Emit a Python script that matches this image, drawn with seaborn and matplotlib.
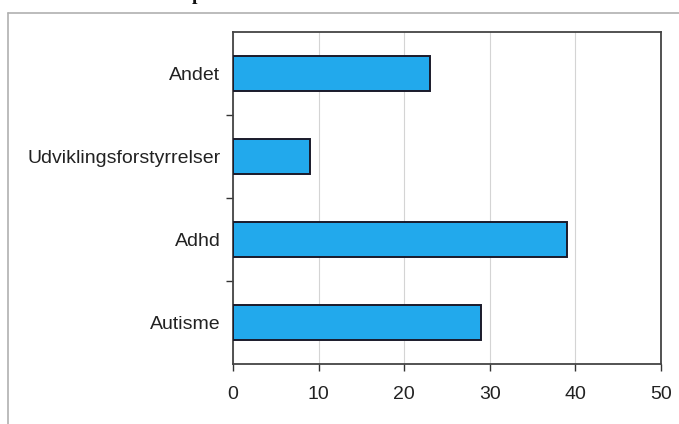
import matplotlib
matplotlib.use("Agg")
import matplotlib.pyplot as plt
from matplotlib.lines import Line2D
from matplotlib.ticker import FixedLocator, NullFormatter
import seaborn as sns
import pandas as pd

categories = ["Andet", "Udviklingsforstyrrelser", "Adhd", "Autisme"]
values = [23, 9, 39, 29]
x_ticks = [0, 10, 20, 30, 40, 50]

df = pd.DataFrame({"kategori": categories, "antal": values})

sns.set_style("white")
plt.rcParams["font.family"] = ["Liberation Sans", "DejaVu Sans"]

fig = plt.figure(figsize=(6.79, 4.24), dpi=100)
ax = fig.add_axes([0.343, 0.1415, 0.6305, 0.783])

sns.barplot(data=df, y="kategori", x="antal", orient="h", order=categories,
            color="#22A9EC", saturation=1, width=0.43,
            edgecolor="#1a1a2a", linewidth=1.4, ax=ax, zorder=3)

ax.set_xlim(0, 50)
ax.set_ylim(3.5, -0.5)
ax.set_xticks(x_ticks)
ax.set_xticklabels([str(t) for t in x_ticks], fontsize=14, color="#222222")
ax.tick_params(axis="x", length=5, width=1, color="#333333", pad=11, direction="out", bottom=True)
ax.tick_params(axis="y", which="major", length=0, pad=9, labelsize=14, labelcolor="#222222")
ax.yaxis.set_minor_locator(FixedLocator([0.5, 1.5, 2.5]))
ax.yaxis.set_minor_formatter(NullFormatter())
ax.tick_params(axis="y", which="minor", length=5, width=1, color="#333333", left=True)
ax.set_xlabel("")
ax.set_ylabel("")

ax.xaxis.grid(True, color="#d4d4d4", linewidth=0.8, zorder=0)
ax.set_axisbelow(True)
for side in ["left", "right", "top", "bottom"]:
    ax.spines[side].set_visible(True)
    ax.spines[side].set_color("#444444")
    ax.spines[side].set_linewidth(1.3)

# outer frame of the chart area
fig.add_artist(Line2D([8 / 679, 1.0], [1 - 13 / 424, 1 - 13 / 424],
                      transform=fig.transFigure, color="#b0b0b0", linewidth=1.2))
fig.add_artist(Line2D([8 / 679, 8 / 679], [0.0, 1 - 13 / 424],
                      transform=fig.transFigure, color="#b0b0b0", linewidth=1.2))

# title sitting above the visible area
fig.text(0.291, 1.0, "p", ha="center", va="baseline", fontsize=14,
         fontweight="bold", family=["Liberation Serif", "DejaVu Serif"], color="#111111")

fig.savefig("out.png", dpi=100)
